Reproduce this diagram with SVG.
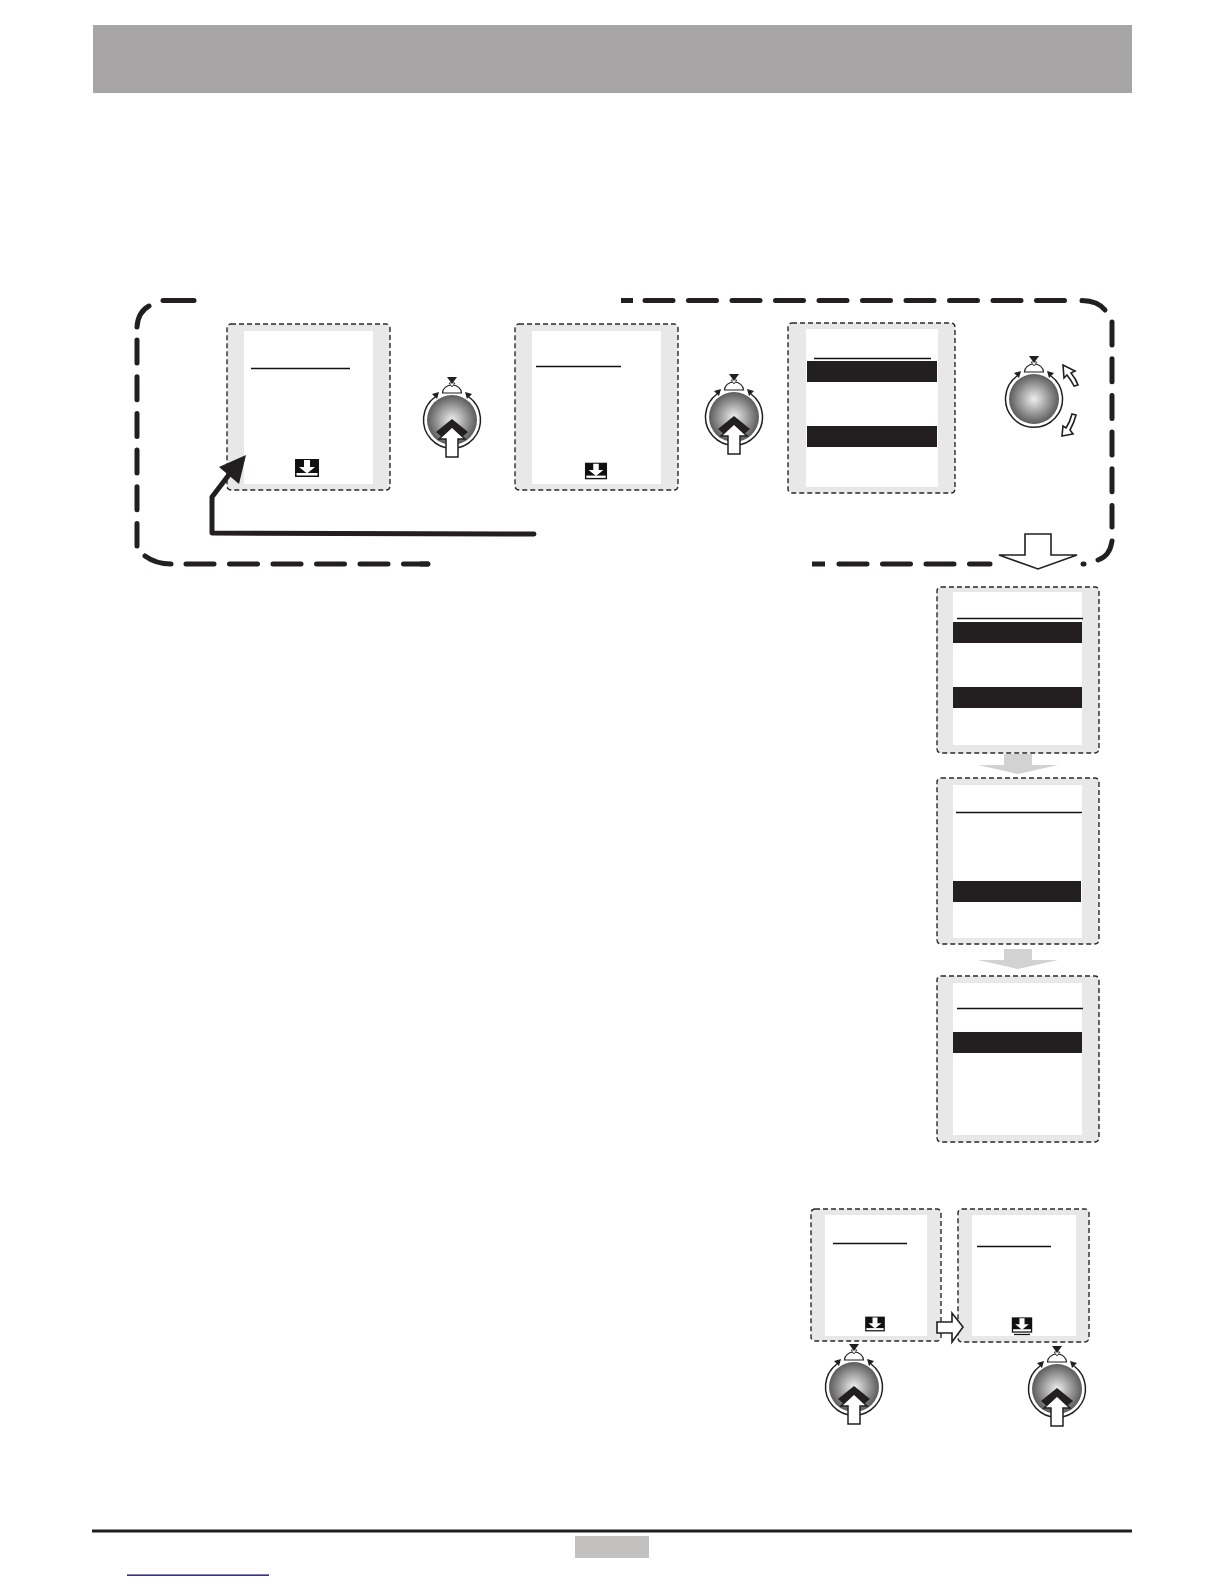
<svg xmlns="http://www.w3.org/2000/svg" width="1224" height="1584" viewBox="0 0 1224 1584">
<style>
.frame{fill:#e8e8e8;stroke:#2a2a2a;stroke-width:1.4;stroke-dasharray:5 3}
.inner{fill:#fff}
.rule{stroke:#111;stroke-width:1.3;fill:none}
.bar{fill:#231f20}
.big{fill:none;stroke:#231f20;stroke-width:5;stroke-linecap:round;stroke-dasharray:28 15.500}
.bigv{fill:none;stroke:#231f20;stroke-width:5;stroke-linecap:round;stroke-dasharray:23 13.700}
.solid{fill:none;stroke:#231f20;stroke-width:5;stroke-linecap:round}
.butt{fill:none;stroke:#231f20;stroke-width:5}
.grey{fill:#d2d2d2}
.wa{fill:#fff;stroke:#231f20;stroke-width:1.6}
</style>
<defs>
<radialGradient id="ballG" cx="0.5" cy="0.5" r="0.52">
<stop offset="0" stop-color="#efefef"/><stop offset="0.5" stop-color="#a2a2a2"/><stop offset="1" stop-color="#565656"/>
</radialGradient>
<g id="knob">
<path d="M-17,-23 A28.500,28.500 0 1 0 17,-23" fill="#fff" stroke="#231f20" stroke-width="1.500"/>
<circle r="25" fill="url(#ballG)"/>
<path d="M-9.500,-27 A9.500,8 0 0 1 9.500,-27 Z" fill="#fff" stroke="#231f20" stroke-width="1.200"/>
<path d="M-5,-43 H5 L0,-36 Z" fill="#231f20"/>
<path d="M-3,-37 H3 L0,-33 Z" fill="#fff" stroke="#231f20" stroke-width="0.800"/>
<path d="M-13,-28 L-20,-26 L-15,-21 Z M13,-28 L20,-26 L15,-21 Z" fill="#231f20"/>
</g>
<g id="push">
<path d="M-16,12 L0,-1 L16,12 L9,18 L-9,18 Z" fill="#231f20"/>
<path d="M-13,19 L0,7 L13,19 L6,19 V37 H-6 V19 Z" fill="#fff" stroke="#231f20" stroke-width="1.500"/>
</g>
<g id="icon">
<rect x="-12" y="-9" width="24" height="18" fill="#111"/>
<path d="M-3,-8 H3 V-1 H8 L0,5.500 L-8,-1 H-3 Z" fill="#fff"/>
<rect x="-10.500" y="5" width="21" height="2.500" fill="#fff"/>
</g>
</defs>
<g id="header"><rect x="93" y="25" width="1039" height="68" fill="#a7a5a6"/></g>
<g id="panel1">
<rect class="frame" x="227" y="324" width="163" height="166" rx="4"/>
<rect class="inner" x="244" y="331" width="129" height="153"/>
<path class="rule" d="M251,368.500 H350"/>
<use href="#icon" x="307" y="468"/>
</g>
<g id="knob1"><use href="#knob" x="452" y="420"/><use href="#push" x="452" y="420"/></g>
<g id="panel2">
<rect class="frame" x="515" y="324" width="163" height="166" rx="4"/>
<rect class="inner" x="532" y="331" width="129" height="153"/>
<path class="rule" d="M536,366.500 H621"/>
<use href="#icon" transform="translate(596 471) scale(.92)"/>
</g>
<g id="knob2"><use href="#knob" x="734" y="417"/><use href="#push" x="734" y="417"/></g>
<g id="panel3">
<rect class="frame" x="788" y="323" width="167" height="170" rx="4"/>
<rect class="inner" x="806" y="329" width="132" height="158"/>
<path class="rule" d="M814,358.500 H931"/>
<rect class="bar" x="807" y="361" width="130" height="21"/>
<rect class="bar" x="807" y="426" width="130" height="21"/>
</g>
<g id="knob3"><use href="#knob" x="1034" y="399"/></g>
<g id="panel4">
<rect class="frame" x="937" y="587" width="162" height="166" rx="4"/>
<rect class="inner" x="953" y="592" width="129" height="153"/>
<path class="rule" d="M957,618.500 H1083"/>
<rect class="bar" x="953" y="622" width="129" height="21"/>
<rect class="bar" x="953" y="687" width="129" height="21"/>
</g>
<g id="panel5">
<rect class="frame" x="937" y="778" width="162" height="166" rx="4"/>
<rect class="inner" x="953" y="785" width="129" height="153"/>
<path class="rule" d="M956,812.500 H1082"/>
<rect class="bar" x="953" y="881" width="128" height="21"/>
</g>
<g id="panel6">
<rect class="frame" x="937" y="976" width="162" height="166" rx="4"/>
<rect class="inner" x="953" y="983" width="129" height="152"/>
<path class="rule" d="M957,1008.500 H1083"/>
<rect class="bar" x="953" y="1032" width="129" height="21"/>
</g>
<g id="panel7">
<rect class="frame" x="811" y="1209" width="130" height="132" rx="4"/>
<rect class="inner" x="825" y="1215" width="102" height="121"/>
<path class="rule" d="M833,1243.500 H907"/>
<use href="#icon" transform="translate(875 1324) scale(.82)"/>
</g>
<g id="panel8">
<rect class="frame" x="958" y="1209" width="131" height="133" rx="4"/>
<rect class="inner" x="972" y="1215" width="104" height="121"/>
<path class="rule" d="M977,1246.500 H1051"/>
<use href="#icon" transform="translate(1022 1325) scale(.85)"/>
<path class="rule" d="M1014,1334.500 H1030"/>
</g>
<g id="knob4"><use href="#knob" x="854" y="1387"/><use href="#push" x="854" y="1387"/></g>
<g id="knob5"><use href="#knob" x="1057" y="1389"/><use href="#push" x="1057" y="1389"/></g>
<g id="connectors">
<path class="solid" d="M137,327 Q138,312 149,306"/>
<path class="solid" d="M163,300.500 H194"/>
<path class="bigv" d="M137,340 V546"/>
<path class="solid" d="M145,556 Q156,564 171,564"/>
<path class="big" d="M186,564 H428"/>
<path class="butt" d="M429,564 H420"/>
<path class="butt" d="M621,300.500 H633"/>
<path class="big" d="M645,300.500 H1066"/>
<path class="solid" d="M1082,300.500 Q1098,301 1105,310"/>
<path class="bigv" d="M1112,322 V527"/>
<path class="solid" d="M1112,541 Q1110,556 1098,560"/>
<path class="solid" d="M1083,564 H1084"/>
<path class="butt" d="M812,564 H825"/>
<path class="big" d="M839,564 H990"/>
<path d="M534,534 L212,533 V497 L228,476" fill="none" stroke="#231f20" stroke-width="5" stroke-linejoin="round" stroke-linecap="round"/>
<path d="M246,455 L219,467 L239,484 Z" fill="#231f20"/>
<path class="wa" d="M1025,534 H1051 V555 H1077 L1038,569 L999,555 H1025 Z"/>
<path class="grey" d="M1004,754 H1032 V765 L1058,765 L1018,774 L978,765 L1004,765 Z"/>
<path class="grey" d="M1004,949 H1032 V960 L1058,960 L1018,969 L978,960 L1004,960 Z"/>
<path class="wa" d="M937,1322 H952 V1313 L963,1327 L952,1342 V1333 H937 Z"/>
<path class="wa" d="M1063,365 L1075,371 L1071,373 Q1076,379 1078,385 L1074,386 Q1071,380 1067,375 L1064,378 Z"/>
<path class="wa" d="M1062,436 L1073,434 L1070,430 Q1074,423 1076,415 L1072,414 Q1070,422 1066,428 L1063,426 Z"/>
</g>
<g id="footer">
<rect x="92" y="1529.500" width="1040" height="3" fill="#231f20"/>
<rect x="575" y="1536" width="74" height="22" fill="#c3c1bf"/>
<rect x="127" y="1574.500" width="142" height="1.300" fill="#000080"/>
</g>
</svg>
